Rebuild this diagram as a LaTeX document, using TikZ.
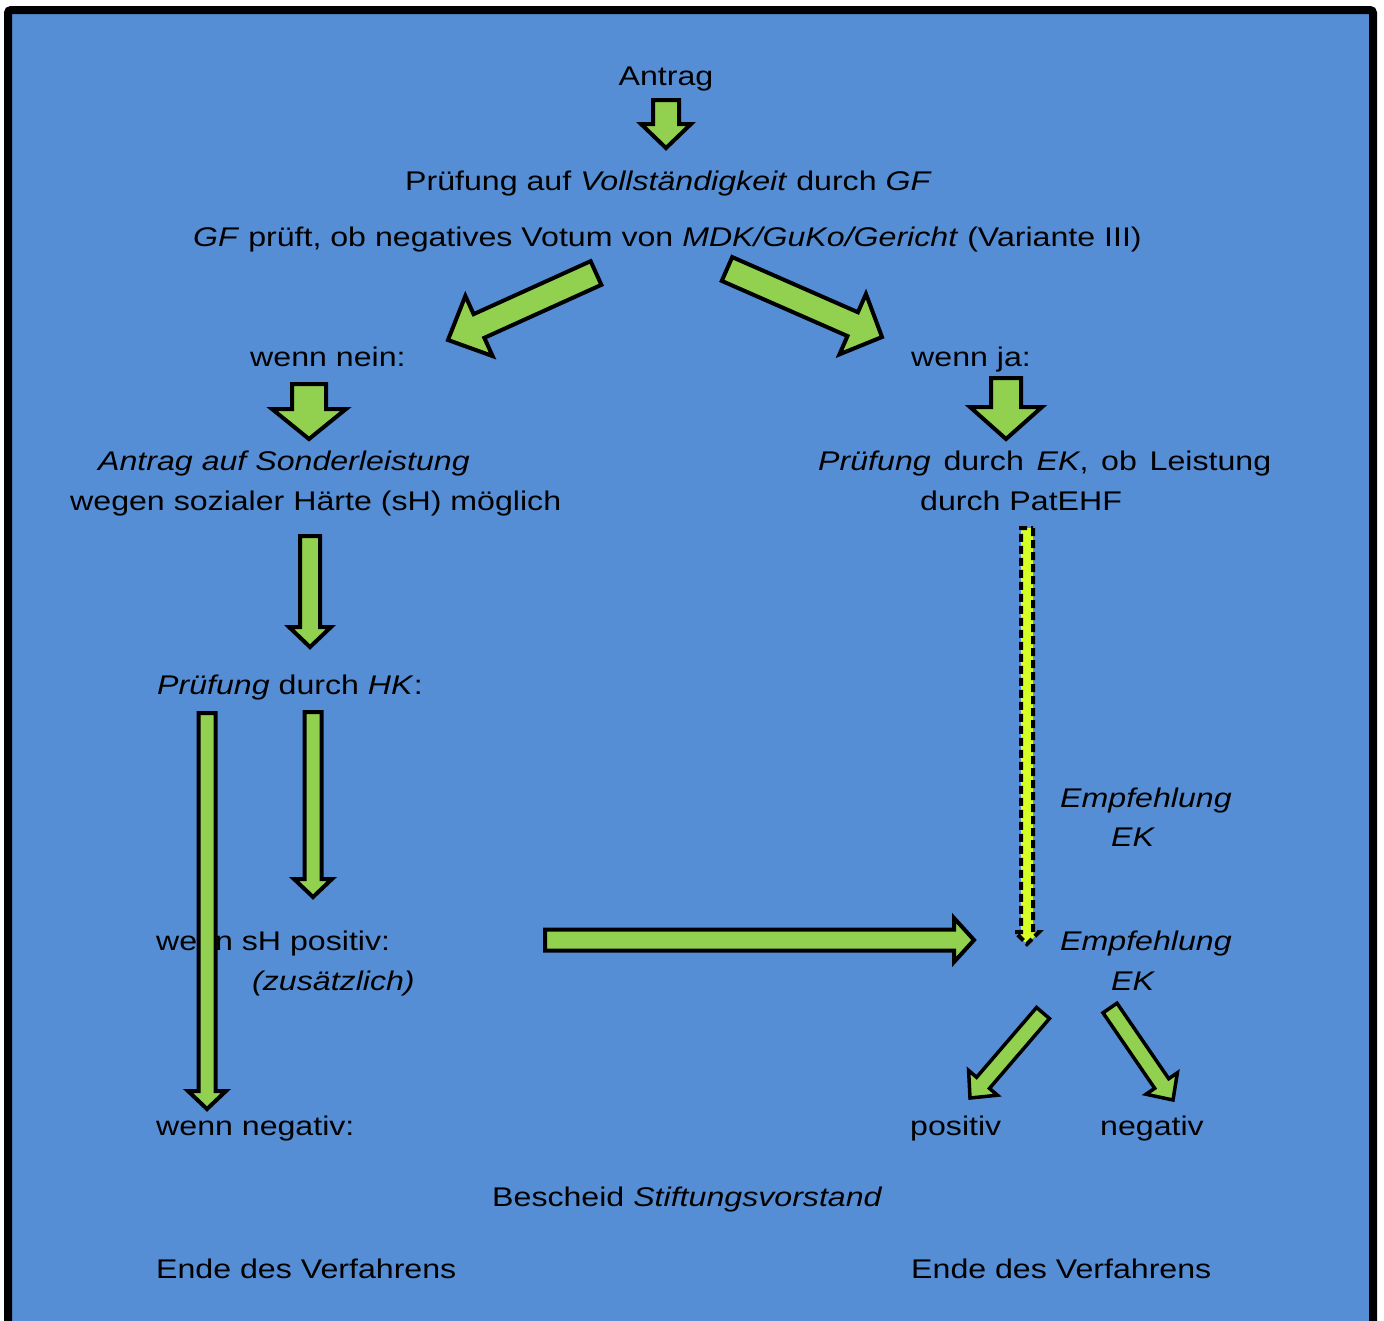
\documentclass[tikz,border=0pt]{standalone}
\usepackage{fontspec}
\setmainfont[FakeStretch=1.19]{Liberation Sans}
\usetikzlibrary{calc}
\definecolor{bgblue}{HTML}{558ED5}
\definecolor{agreen}{HTML}{92D050}
\definecolor{ayellow}{RGB}{214,255,40}
\tikzset{
  txt/.style={anchor=base west, inner sep=0pt, font=\fontsize{27}{32}\selectfont},
  garrow/.style={fill=agreen, draw=black, line width=4pt, line join=miter},
  garrowthin/.style={fill=agreen, draw=black, line width=3.5pt, line join=miter},
  yarrow/.style={fill=ayellow, draw=black, line width=4pt, dash pattern=on 8pt off 4pt, line join=miter}
}
% #1 style, #2 start, #3 tip, #4 shaft half width, #5 head half width, #6 head length
\newcommand\blockarrow[6][]{%
  \coordinate (#2-#3-c) at ($(#3)!#6!(#2)$);
  \draw[#1] ($(#2)!#4!90:(#3)$) -- ($(#2-#3-c)!#4!-90:(#2)$) -- ($(#2-#3-c)!#5!-90:(#2)$)
    -- (#3) -- ($(#2-#3-c)!#5!90:(#2)$) -- ($(#2-#3-c)!#4!90:(#2)$) -- ($(#2)!#4!-90:(#3)$) -- cycle;}
\begin{document}
\begin{tikzpicture}[x=1pt,y=-1pt]
\useasboundingbox (0,0) rectangle (1384,1320);
\fill[white] (0,0) rectangle (1384,1320);
\draw[line width=8pt, fill=bgblue, rounded corners=3pt] (8,10) rectangle (1373,1345);

% texts
\node[txt, anchor=base] (antrag) at (666,85) {Antrag};
\node[txt] (pruef) at (405,190) {Prüfung auf \textit{Vollständigkeit} durch \textit{GF}};
\node[txt] (votum) at (193,246) {\textit{GF} prüft, ob negatives Votum von \textit{MDK/GuKo/Gericht} (Variante III)};
\node[txt] (nein) at (250,366) {wenn nein:};
\node[txt] (ja) at (911,366) {wenn ja:};
\node[txt] (sond1) at (98,470) {\textit{Antrag auf Sonderleistung}};
\node[txt] (sond2) at (70,510) {wegen sozialer Härte (sH) möglich};
\node[txt] (ek1) at (818,470) {\makebox[453pt][s]{\textit{Prüfung} durch \textit{EK}, ob Leistung}};
\node[txt] (ek2) at (920,510) {durch PatEHF};
\node[txt] (hk) at (157,694) {\textit{Prüfung} durch \textit{HK}:};
\node[txt] (empf1) at (1060,807) {\textit{Empfehlung}};
\node[txt] (empf1b) at (1111,846) {\textit{EK}};
\node[txt] (empf2) at (1060,950) {\textit{Empfehlung}};
\node[txt] (empf2b) at (1111,990) {\textit{EK}};
\node[txt] (shpos) at (156,950) {wenn sH positiv:};
\node[txt] (zus) at (252,990) {\textit{(zusätzlich)}};
\node[txt] (neg) at (156,1135) {wenn negativ:};
\node[txt] (pos2) at (910,1135) {positiv};
\node[txt] (neg2) at (1100,1135) {negativ};
\node[txt] (besch) at (492,1206) {Bescheid \textit{Stiftungsvorstand}};
\node[txt] (ende1) at (156,1278) {Ende des Verfahrens};
\node[txt] (ende2) at (911,1278) {Ende des Verfahrens};

% arrow end points
\coordinate (a1s) at (666,100);  \coordinate (a1t) at (666,148);
\coordinate (a2s) at (596,273);  \coordinate (a2t) at (448,340);
\coordinate (a3s) at (727,269);  \coordinate (a3t) at (882,337);
\coordinate (a4s) at (309,384);  \coordinate (a4t) at (309,439);
\coordinate (a5s) at (1006,378); \coordinate (a5t) at (1006,439);
\coordinate (a6s) at (310,536);  \coordinate (a6t) at (310,647);
\coordinate (a7s) at (207,713);  \coordinate (a7t) at (207,1109);
\coordinate (a8s) at (313,712);  \coordinate (a8t) at (313,897);
\coordinate (a9s) at (545,940);  \coordinate (a9t) at (974,940);
\coordinate (a10s) at (1027,528); \coordinate (a10t) at (1027,944);
\coordinate (a11s) at (1043,1013); \coordinate (a11t) at (970,1098);
\coordinate (a12s) at (1110,1008); \coordinate (a12t) at (1173,1100);

\blockarrow[garrow]{a1s}{a1t}{13pt}{25pt}{24pt}
\blockarrow[garrow]{a2s}{a2t}{13pt}{33pt}{34pt}
\blockarrow[garrow]{a3s}{a3t}{13pt}{33pt}{32pt}
\blockarrow[garrow]{a4s}{a4t}{17pt}{37pt}{30pt}
\blockarrow[garrow]{a5s}{a5t}{15pt}{36pt}{32pt}
\blockarrow[garrow]{a6s}{a6t}{10pt}{21pt}{20pt}
\blockarrow[garrow]{a7s}{a7t}{8.5pt}{19pt}{18pt}
\blockarrow[garrow]{a8s}{a8t}{8.5pt}{19pt}{18pt}
\blockarrow[garrow]{a9s}{a9t}{10.5pt}{22pt}{20pt}
\blockarrow[yarrow]{a10s}{a10t}{6pt}{12pt}{12pt}
\blockarrow[garrowthin]{a11s}{a11t}{8.5pt}{19pt}{20pt}
\blockarrow[garrowthin]{a12s}{a12t}{8.5pt}{19pt}{20pt}
\end{tikzpicture}
\end{document}
